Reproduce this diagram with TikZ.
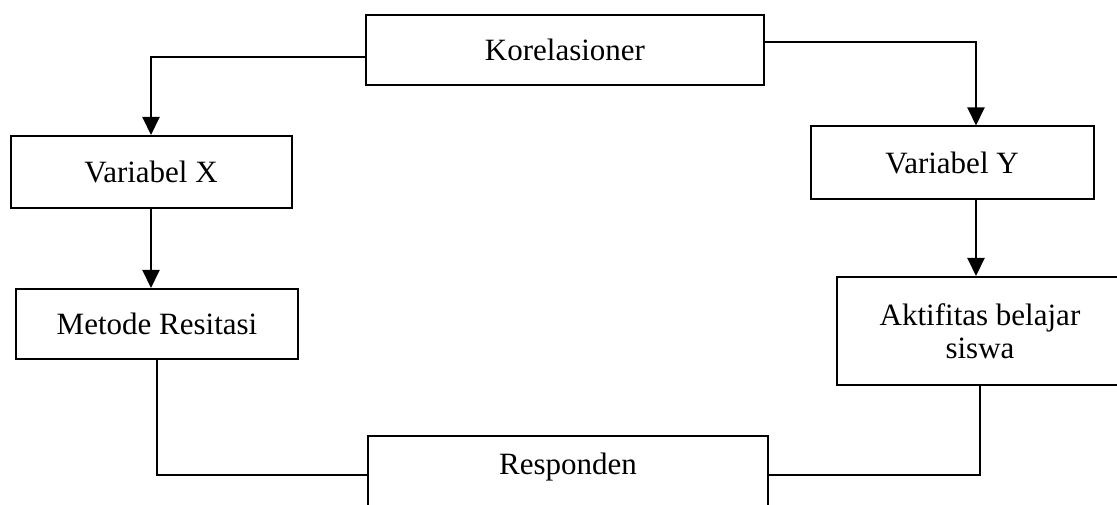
\documentclass[tikz,border=0pt]{standalone}
\usepackage{fontspec}
\setmainfont{Liberation Serif}
\usetikzlibrary{arrows.meta}

\tikzset{
  kotak/.style={draw, line width=2pt, rectangle, inner sep=0pt, align=center,
    font=\fontsize{31}{33}\selectfont},
  panah/.style={line width=2pt, -{Triangle[length=18pt,width=17pt]}},
  garis/.style={line width=2pt},
}

\begin{document}
\begin{tikzpicture}[x=1pt,y=1pt,yscale=-1,xscale=1]
\clip (0,0) rectangle (1117,505);

%Shape: Rectangle
\node[kotak, minimum width=398pt, minimum height=70pt] (kor) at (565,50) {Korelasioner};
%Shape: Rectangle
\node[kotak, minimum width=281pt, minimum height=72pt] (varx) at (151,172) {Variabel X};
%Shape: Rectangle
\node[kotak, minimum width=283pt, minimum height=73pt] (vary) at (952,163) {Variabel Y};
%Shape: Rectangle
\node[kotak, minimum width=282pt, minimum height=70pt] (metode) at (157,324) {Metode Resitasi};
%Shape: Rectangle
\node[kotak, minimum width=286pt, minimum height=108pt] (akt) at (980,331) {Aktifitas belajar\\siswa};
%Shape: Rectangle (bottom edge out of frame)
\node[kotak, minimum width=400pt, anchor=north, inner ysep=8pt, text height=30pt, text depth=40pt] (resp) at (568,435) {Responden};

%Straight Lines
\draw[panah] ([yshift=7pt]kor.west) -| (varx.north);
\draw[panah] ([yshift=-8pt]kor.east) -| ([xshift=24pt]vary.north);
\draw[panah] (varx.south) -- (varx.south |- metode.north);
\draw[panah] ([xshift=24pt]vary.south) -- ([xshift=24pt]vary.south |- akt.north);
\draw[garis] (metode.south) |- ([yshift=-4pt]resp.west);
\draw[garis] (akt.south) |- ([yshift=-4pt]resp.east);

\end{tikzpicture}
\end{document}
